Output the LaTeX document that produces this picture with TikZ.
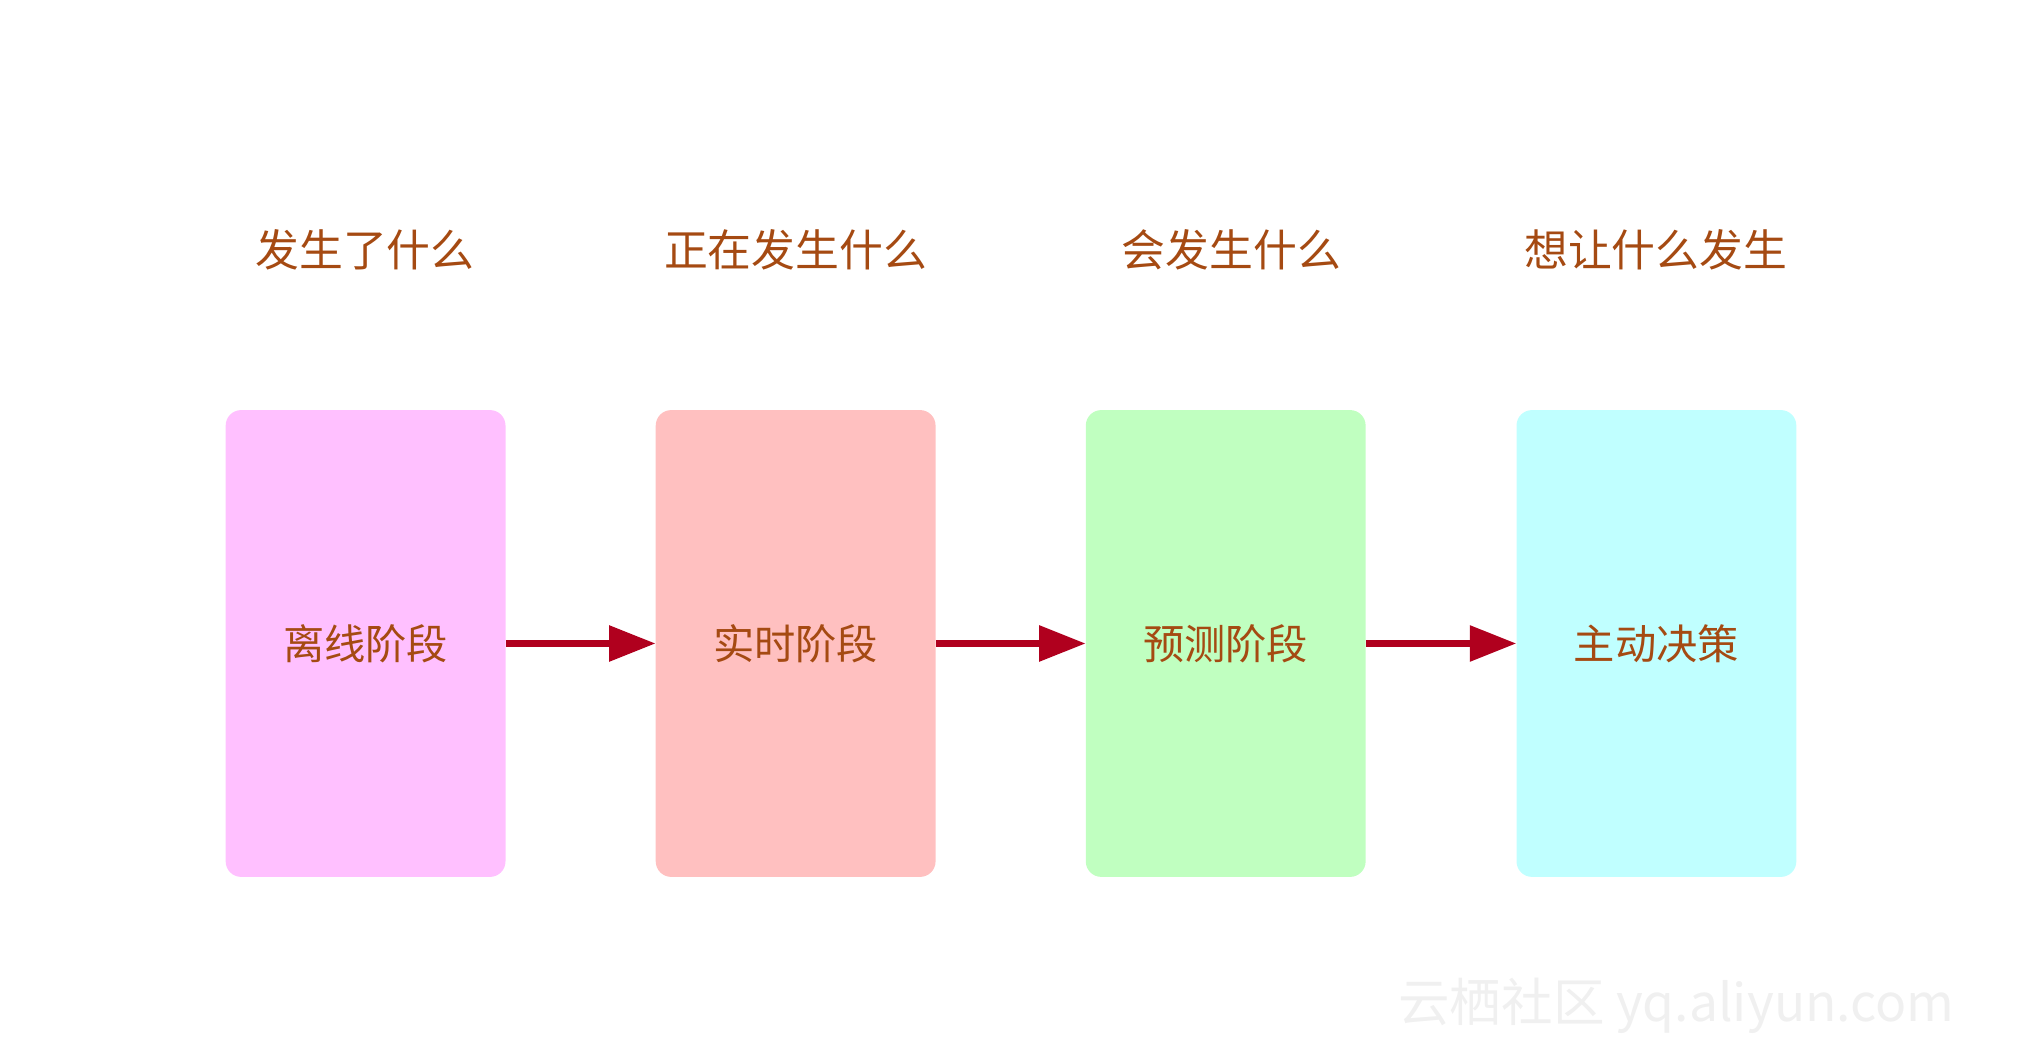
\documentclass[tikz,border=0pt]{standalone}
\usepackage{fontspec}
\newfontfamily\cjk{Noto Sans CJK SC}
\usetikzlibrary{arrows.meta}
\definecolor{txt}{HTML}{A54A12}
\definecolor{arr}{HTML}{B0001E}
\begin{document}
\begin{tikzpicture}[x=1pt,y=-1pt,
  box/.style={rounded corners=12pt,minimum width=217pt,minimum height=362pt,inner sep=0pt,font=\cjk\fontsize{32}{36}\selectfont,text=txt},
  head/.style={font=\cjk\fontsize{34}{38}\selectfont,text=txt},
  conn/.style={draw=arr,line width=5pt,-{Triangle[length=36pt,width=27pt]}}]
\useasboundingbox (0,0) rectangle (1568,816);
\node[box,fill={rgb,255:red,255;green,192;blue,255}] (a) at (283.5,499) {离线阶段};
\node[box,fill={rgb,255:red,255;green,192;blue,192}] (b) at (617,499) {实时阶段};
\node[box,fill={rgb,255:red,192;green,255;blue,192}] (c) at (950.5,499) {预测阶段};
\node[box,fill={rgb,255:red,192;green,255;blue,255}] (d) at (1284.5,499) {主动决策};
\node[head] (ha) at (283,194) {发生了什么};
\node[head] (hb) at (617,194) {正在发生什么};
\node[head] (hc) at (955,194) {会发生什么};
\node[head] (hd) at (1284,194) {想让什么发生};
\draw[conn] (a.east) -- (b.west);
\draw[conn] (b.east) -- (c.west);
\draw[conn] (c.east) -- (d.west);
\node[font=\cjk\fontsize{40}{44}\selectfont,text=black!6] (wm) at (1300,780) {云栖社区 yq.aliyun.com};
\end{tikzpicture}
\end{document}
